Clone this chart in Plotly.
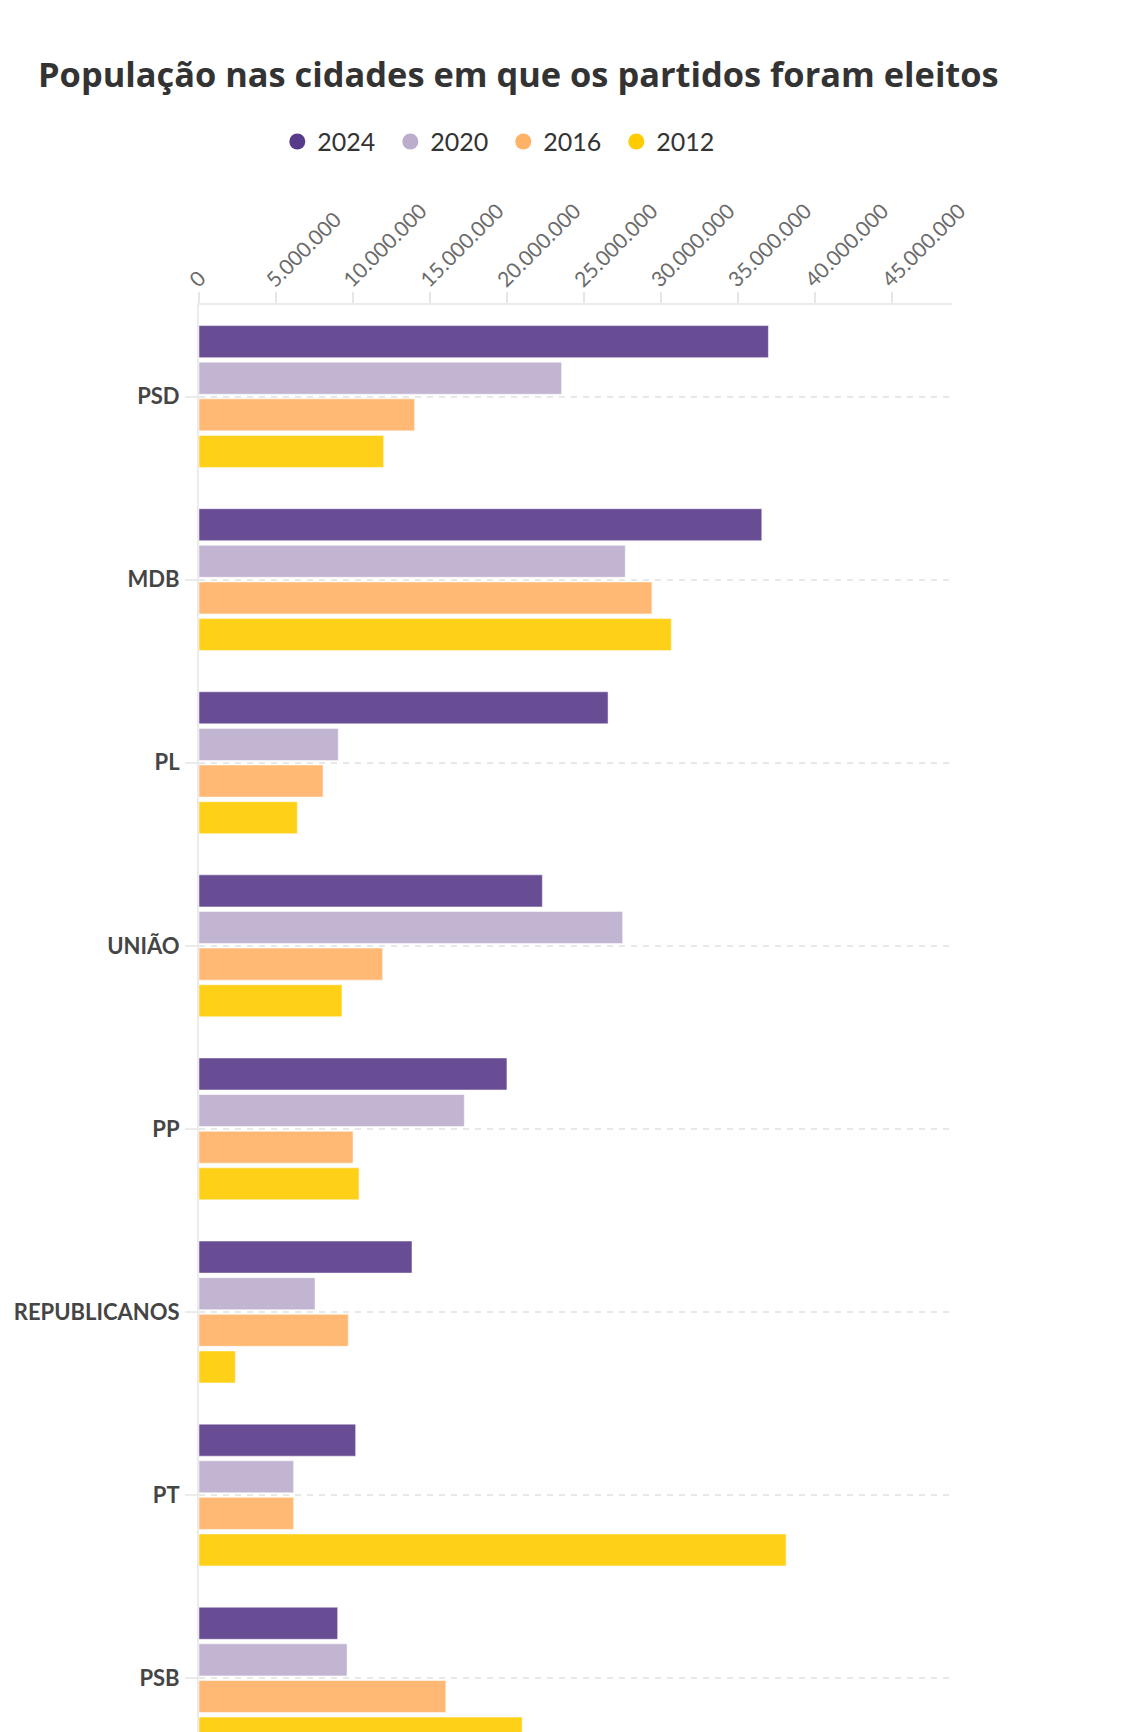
# Grafico: populacao nas cidades em que os partidos foram eleitos
import plotly.graph_objects as go

partidos = ["PSD", "MDB", "PL", "UNIÃO", "PP", "REPUBLICANOS", "PT", "PSB"]
anos = ["2024", "2020", "2016", "2012"]

pop_2024 = [37000000, 36570000, 26580000, 22310000, 20010000, 13840000, 10180000, 9010000]
pop_2020 = [23560000, 27700000, 9050000, 27530000, 17240000, 7540000, 6150000, 9620000]
pop_2016 = [14010000, 29430000, 8060000, 11930000, 10010000, 9700000, 6150000, 16040000]
pop_2012 = [12000000, 30690000, 6390000, 9290000, 10400000, 2360000, 38150000, 21000000]

cores = ["#583a8a", "#bcadcd", "#ffb267", "#ffcc00"]

font = dict(family="Lato, 'Open Sans', sans-serif", color="#333333")

fig = go.Figure()
for ano, valores, cor in zip(anos, [pop_2024, pop_2020, pop_2016, pop_2012], cores):
    fig.add_bar(x=valores, y=partidos, orientation="h", name=ano,
                marker=dict(color=cor, opacity=0.9, line=dict(color="white", width=0.5)),
                showlegend=False)

# bolinhas da legenda
for ano, cor in zip(anos, cores):
    fig.add_scatter(x=[None], y=[None], mode="markers", name=ano,
                    marker=dict(color=cor, size=16, symbol="circle"))

# a pagina tem margem de 8px no body, por isso tudo fica 8px antes
fig.update_layout(
    width=1109, height=1724,
    margin=dict(l=191, r=165, t=297, b=0),
    paper_bgcolor="white", plot_bgcolor="white",
    font=font,
    separators=",.",
    barmode="group", bargap=0.2, bargroupgap=0.125,
    title=dict(text="<b>População nas cidades em que os partidos foram eleitos</b>",
               font=dict(family="'Open Sans', sans-serif", size=34.4, color="#333333"),
               x=30 / 1109, xanchor="left", xref="container",
               y=1 - 55 / 1724, yanchor="top", yref="container"),
    legend=dict(orientation="h", x=0.104, xanchor="left", y=1.1144, yanchor="middle",
                font=dict(size=25, color="#333333"), entrywidth=68, itemwidth=30,
                bgcolor="rgba(0,0,0,0)"),
    xaxis=dict(side="top", range=[0, 48930000], tick0=0, dtick=5000000, tickformat=",d",
               tickangle=-45, ticks="outside", ticklen=11, tickwidth=1.5, tickcolor="#e6e6e6",
               showline=True, linecolor="#ebebeb", linewidth=2,
               showgrid=False, zeroline=False,
               ticklabelshift=-8, ticklabelstandoff=-8,
               tickfont=dict(size=21, color="#6b6b6b")),
    yaxis=dict(type="category", range=[7.294, -0.5],
               ticks="outside", ticklen=12, tickwidth=1.5, tickcolor="#ebebeb",
               showline=True, linecolor="#ebebeb", linewidth=2,
               showgrid=True, gridcolor="#e8e8e8", gridwidth=2, griddash="6px,6px",
               ticklabelstandoff=1,
               tickfont=dict(size=22, color="#454545", weight="bold")),
)

fig.write_html("out.html")
